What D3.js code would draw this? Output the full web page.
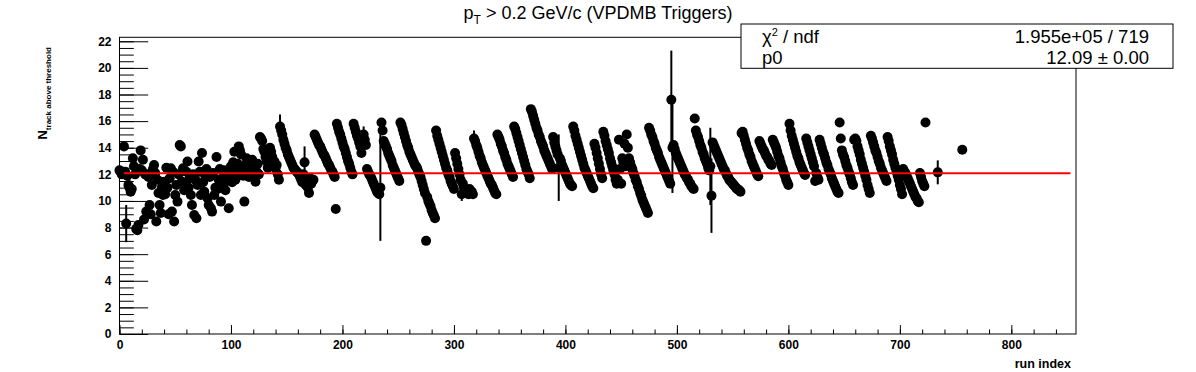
<!DOCTYPE html>
<html>
<head>
  <meta charset="UTF-8">
  <title>Ntrack above threshold vs run index</title>
  <script src="https://d3js.org/d3.v7.min.js"></script>
  <style>
    body {
      margin: 0;
      padding: 0;
      background-color: #ffffff;
    }
    svg text {
      font-family: 'Liberation Sans', Arial, Helvetica, sans-serif;
    }
    .axis text {
      font-size: 12px;
      font-weight: bold;
      fill: #000;
    }
    .axis line {
      stroke: #000;
    }
  </style>
</head>
<body>
  <svg id="chart"></svg>
  <script>
    // <N_track> per run, run index = position in the array (runs 0..723)
    const nTrack = [
      12.3, 12.2, 12.0, 12.2, 14.1, 12.2, 8.3, 11.9, 11.2, 11.0,
      10.7, 10.9, 13.2, 12.6, 12.0, 7.9, 7.8, 8.2, 12.4, 13.8,
      12.3, 13.1, 8.6, 12.0, 9.2, 12.0, 11.8, 9.7, 9.0, 11.2,
      12.4, 12.7, 12.1, 8.45, 11.6, 10.6, 9.7, 9.1, 11.0, 10.45,
      11.45, 10.5, 12.5, 11.0, 9.0, 11.7, 12.45, 9.2, 12.2, 8.45,
      10.45, 11.2, 9.95, 12.0, 14.2, 14.1, 11.45, 12.45, 10.8, 11.3,
      12.2, 12.96, 11.0, 11.7, 10.45, 9.7, 12.0, 8.95, 11.6, 8.7,
      11.2, 12.96, 12.2, 10.45, 13.6, 11.4, 10.7, 11.9, 12.4, 10.2,
      9.7, 11.8, 9.45, 9.2, 12.1, 10.45, 11.0, 13.3, 10.9, 11.6,
      12.4, 9.95, 11.7, 11.2, 12.3, 10.8, 11.5, 12.0, 9.45, 11.9,
      12.6, 11.4, 12.9, 13.7, 11.6, 12.2, 12.8, 14.1, 13.8, 13.5,
      12.2, 11.9, 9.95, 12.7, 13.2, 12.0, 11.8, 12.5, 12.7, 13.1,
      12.45, 11.9, 11.45, 12.2, 12.8, 12.0, 14.8, 14.7, 14.5, 13.9,
      13.7, 13.3, 12.96, 12.5, 13.2, 14.0, 13.7, 13.3, 12.7, 12.96,
      12.45, 12.7, 12.0, 11.6, 15.6, 15.3, 15.0, 14.6, 14.3, 14.0,
      13.8, 13.5, 13.3, 13.1, 12.9, 12.7, 12.5, 12.4, 12.3, 12.2,
      12.1, 12.0, 11.8, 11.6, 11.4, 12.0, 12.9, 11.2, 11.5, 11.0,
      10.6, 11.7, 11.3, 11.5, 11.6,
      // 175
      15.0, 14.8, 14.6, 14.4, 14.2, 14.1, 13.9, 13.7, 13.5, 13.4,
      13.2, 13.0, 12.8, 12.7, 12.5, 12.3, 12.2, 12.0, 11.8, 9.4,
      // 195
      15.8, 15.5, 15.2, 15.0, 14.7, 14.4, 14.1, 13.9, 13.6, 13.3,
      13.0, 12.8, 12.5, 12.2, 12.0,
      // 210
      15.8, 15.5, 15.2, 14.9, 14.7, 14.4, 14.1, 13.6, 14.9, 15.0,
      14.6, 14.2, 12.4, 12.2, 12.0, 11.9, 11.7, 11.5, 11.3, 11.1,
      10.9, 10.7, 10.6, 10.5, 11.0,
      // 235
      15.9, 15.3, 14.5, 14.3, 14.1, 13.9, 13.6, 13.4, 13.2, 13.0,
      12.7, 12.5, 12.3, 12.1, 11.9, 11.7, 11.5,
      // 252
      15.9, 15.7, 15.4, 15.1, 14.8, 14.5, 14.2, 14.0, 13.7, 13.5,
      13.3, 13.1, 12.9, 12.7, 12.6, 12.45, 12.2, 12.0, 11.8, 11.5,
      11.2, 10.9, 10.6, 7.0, 10.3, 10.0, 9.8, 9.6, 9.3, 9.1,
      8.9, 8.7,
      // 284
      15.3, 14.9, 14.6, 14.3, 14.0, 13.7, 13.4, 13.1, 12.8, 12.5,
      12.3, 12.0, 11.8, 11.5, 11.3, 11.1, 10.9,
      // 301
      13.6, 13.2, 12.8, 12.4, 12.0, 11.6, 10.5, 11.3, 11.0, 10.8,
      10.6, 10.7, 10.5, 10.9, 10.6, 10.7, 10.5,
      // 318
      14.7, 14.5, 14.2, 14.0, 13.7, 13.4, 13.2, 12.9, 12.7, 12.5,
      12.3, 12.1, 11.9, 11.7, 11.5, 11.3, 11.2, 11.0, 10.8, 10.6,
      10.5,
      // 339
      15.0, 14.8, 14.6, 14.3, 14.1, 13.8, 13.6, 13.3, 13.1, 12.8,
      12.6, 12.4, 12.2, 12.0, 11.8,
      // 354
      15.6, 15.4, 15.1, 14.8, 14.5, 14.2, 13.9, 13.6, 13.3, 13.0,
      12.7, 12.4, 12.2, 12.0, 11.7,
      // 369
      16.9, 16.7, 16.4, 16.1, 15.8, 15.5, 15.3, 15.0, 14.8, 14.5,
      14.3, 14.1, 13.8, 13.6, 13.4, 13.2, 13.0, 12.8, 12.6, 12.4,
      // 389
      14.8, 14.4, 14.1, 13.8, 13.5, 12.5, 13.2, 13.0, 12.7, 12.5,
      12.3, 12.1, 11.9, 11.7, 11.5, 11.3, 11.2, 11.1,
      // 407
      15.6, 15.3, 14.9, 14.6, 14.3, 14.0, 13.7, 13.4, 13.1, 12.8,
      12.5, 12.3, 12.1, 11.9, 11.7, 11.5, 11.3, 11.1, 10.95,
      // 426
      14.3, 14.0, 13.6, 13.2, 12.8, 12.4, 12.0, 11.7,
      // 434
      15.2, 14.9, 14.5, 14.2, 13.9, 13.6, 13.2, 12.9, 12.6, 12.3,
      12.0, 11.6, 11.3,
      // 447
      11.6, 14.6, 12.4, 11.3, 13.2, 12.9, 14.3, 12.6, 15.0, 14.0,
      // 457
      13.2, 12.9, 12.6, 12.4, 12.1, 11.9, 11.6, 11.4, 11.1, 10.9,
      10.6, 10.4, 10.1, 9.9, 9.7, 9.5, 9.3, 9.1,
      // 475
      15.5, 15.3, 15.0, 14.8, 14.5, 14.3, 14.0, 13.8, 13.6, 13.3,
      13.1, 12.9, 12.7, 12.5, 12.3, 12.1, 11.9, 11.7, 11.5, 11.3,
      // 495
      17.6, 14.0,
      // 497
      14.2, 13.9, 13.6, 13.4, 13.2, 13.0, 12.8, 12.6, 12.4, 12.2,
      12.0, 11.9, 11.7, 11.6, 11.4, 11.3, 11.1, 11.0, 10.9, 16.2,
      // 517
      15.3, 15.0, 14.8, 14.5, 14.2, 14.0, 13.7, 13.5, 13.2, 13.0,
      12.8, 12.5, 12.3, 12.6, 10.4,
      // 532
      14.4, 14.2, 14.0, 13.8, 13.6, 13.4, 13.2, 13.0, 12.8, 12.6,
      12.4, 12.3, 12.1, 11.9, 11.8, 11.6, 11.5, 11.4, 11.3, 11.2,
      11.1, 11.0, 10.9, 10.85, 10.8, 10.7,
      // 558
      15.1, 15.2, 14.9, 14.6, 14.3, 14.0, 13.8, 13.5, 13.3, 13.0,
      12.8, 12.6, 12.4, 12.2, 12.0, 11.85,
      // 574
      14.5, 14.3, 14.1, 13.9, 13.8, 13.6, 13.4, 13.3, 13.1, 13.0,
      12.8, 12.7,
      // 586
      14.6, 14.4, 14.2, 14.0, 13.7, 13.4, 13.2, 12.9, 12.6, 12.4,
      12.1, 11.9, 11.6, 11.4, 11.2,
      // 601
      15.8, 15.3, 14.9, 14.6, 14.3, 14.0, 13.7, 13.4, 13.2, 12.9,
      12.7, 12.5, 12.3, 12.1, 11.95,
      // 616
      14.7, 14.4, 14.1, 13.8, 13.5, 13.2, 12.9, 12.6, 11.5, 12.1,
      11.8, 11.6,
      // 628
      14.6, 14.3, 14.0, 13.7, 13.5, 13.2, 12.9, 12.7, 12.4, 12.2,
      12.0, 11.7, 11.5, 11.3, 11.1, 10.9, 10.7, 10.6,
      // 646
      15.9, 14.7, 13.8, 13.5, 13.3, 13.0, 12.7, 12.5, 12.2, 12.0,
      11.7, 11.4, 11.2,
      // 659
      14.6, 14.7, 14.5, 14.1, 13.8, 13.5, 13.1, 12.8, 12.5, 12.2,
      11.9, 11.6, 11.2, 10.9, 10.6,
      // 674
      14.9, 14.7, 14.4, 14.1, 13.8, 13.6, 13.3, 13.0, 12.8, 12.5,
      12.3, 12.1, 11.9, 11.7, 11.5,
      // 689
      14.8, 14.5, 14.1, 13.8, 13.5, 13.1, 12.8, 12.5, 12.2, 11.9,
      11.6, 11.2, 10.9, 10.5,
      // 703
      12.4, 12.2, 12.1, 11.9, 11.7, 11.5, 11.3, 11.1, 10.9, 10.7,
      10.5, 10.3, 10.2, 10.0, 9.9,
      // 718
      12.1, 11.8, 11.5, 11.3, 11.1, 15.9
    ];

    // runs after the gap
    const extraRuns = [734, 756];
    const extraVals = [12.15, 13.85];

    // runs with error bars that stick out of the marker
    const errRuns = [6, 144, 166, 219, 234, 307, 318, 394, 495, 496, 530, 531, 624, 734];
    const errVals = [1.4, 0.9, 1.2, 0.6, 4.0, 0.5, 0.6, 2.5, 3.7, 3.4, 2.9, 2.8, 0.35, 0.9];

    // pol0 fit
    const fitP0 = 12.09;
    const fitRange = [4, 853];
    const chi2Text = "1.955e+05 / 719";
    const p0Text = "12.09 \u00b1 0.00";

    const W = 1196, H = 372;
    const fl = 119.5, fr = 1076, ft = 37.3, fb = 334;

    const points = nTrack.map(function(v, i) { return { run: i, val: v }; })
      .concat(extraRuns.map(function(r, i) { return { run: r, val: extraVals[i] }; }));
    const valOf = {};
    points.forEach(function(d) { valOf[d.run] = d.val; });

    const x = d3.scaleLinear().domain([0, 858]).range([fl, fr]);
    const y = d3.scaleLinear().domain([0, 22.3]).range([fb, ft]);

    const svg = d3.select("#chart")
      .attr("width", W)
      .attr("height", H);

    // minor ticks
    svg.append("g")
      .attr("class", "axis")
      .attr("transform", `translate(${fl},0)`)
      .call(d3.axisLeft(y).tickValues(d3.range(0, 22.01, 0.5)).tickSize(-14.3).tickFormat(""))
      .call(g => g.select(".domain").remove());
    svg.append("g")
      .attr("class", "axis")
      .attr("transform", `translate(0,${fb})`)
      .call(d3.axisBottom(x).tickValues(d3.range(0, 858, 20)).tickSize(-4.5).tickFormat(""))
      .call(g => g.select(".domain").remove());

    // major ticks + labels
    svg.append("g")
      .attr("class", "axis")
      .attr("transform", `translate(${fl},0)`)
      .call(d3.axisLeft(y).tickValues(d3.range(0, 23, 2)).tickSize(-28.7).tickPadding(8))
      .call(g => g.select(".domain").remove());
    svg.append("g")
      .attr("class", "axis")
      .attr("transform", `translate(0,${fb})`)
      .call(d3.axisBottom(x).tickValues(d3.range(0, 801, 100)).tickSize(-8.9).tickPadding(6))
      .call(g => g.select(".domain").remove());

    // frame
    svg.append("rect")
      .attr("x", fl).attr("y", ft)
      .attr("width", fr - fl).attr("height", fb - ft)
      .attr("fill", "none")
      .attr("stroke", "#000")
      .attr("stroke-width", 1);

    // error bars
    svg.append("g").selectAll("line")
      .data(errRuns)
      .join("line")
      .attr("x1", function(r) { return x(r); })
      .attr("x2", function(r) { return x(r); })
      .attr("y1", function(r, i) { return y(valOf[r] + errVals[i]); })
      .attr("y2", function(r, i) { return y(valOf[r] - errVals[i]); })
      .attr("stroke", "#000")
      .attr("stroke-width", 2);

    // markers
    svg.append("g").selectAll("circle")
      .data(points)
      .join("circle")
      .attr("cx", function(d) { return x(d.run); })
      .attr("cy", function(d) { return y(d.val); })
      .attr("r", 5)
      .attr("fill", "#000");

    // fit line
    svg.append("line")
      .attr("x1", x(fitRange[0])).attr("x2", x(fitRange[1]))
      .attr("y1", y(fitP0)).attr("y2", y(fitP0))
      .attr("stroke", "#ff0000")
      .attr("stroke-width", 2);

    // title
    const title = svg.append("text")
      .attr("x", 598).attr("y", 19)
      .attr("text-anchor", "middle")
      .style("font-size", "18px");
    title.append("tspan").text("p");
    title.append("tspan").attr("dy", 5).style("font-size", "12px").text("T");
    title.append("tspan").attr("dy", -5).text(" > 0.2 GeV/c (VPDMB Triggers)");

    // axis titles
    svg.append("text")
      .attr("x", 1071).attr("y", 368)
      .attr("text-anchor", "end")
      .style("font-size", "12.5px")
      .style("font-weight", "bold")
      .text("run index");

    const ytitle = svg.append("text")
      .attr("transform", "translate(46.5,47) rotate(-90)")
      .attr("text-anchor", "end")
      .style("font-weight", "bold");
    ytitle.append("tspan").style("font-size", "13px").text("N");
    ytitle.append("tspan").attr("dy", 4.5).style("font-size", "8px").text("track above threshold");

    // stats box
    svg.append("rect")
      .attr("x", 741).attr("y", 24)
      .attr("width", 432).attr("height", 44.3)
      .attr("fill", "#fff")
      .attr("stroke", "#000")
      .attr("stroke-width", 1);

    const l1 = svg.append("text").attr("x", 762).attr("y", 42.5).style("font-size", "18.5px");
    l1.append("tspan").text("\u03c7");
    l1.append("tspan").attr("dy", -7).style("font-size", "11px").text("2");
    l1.append("tspan").attr("dy", 7).text(" / ndf");
    svg.append("text").attr("x", 1149).attr("y", 42.5)
      .attr("text-anchor", "end").style("font-size", "18.5px").text(chi2Text);
    svg.append("text").attr("x", 762).attr("y", 64).style("font-size", "18.5px").text("p0");
    svg.append("text").attr("x", 1149).attr("y", 64)
      .attr("text-anchor", "end").style("font-size", "18.5px").text(p0Text);
  </script>
</body>
</html>
